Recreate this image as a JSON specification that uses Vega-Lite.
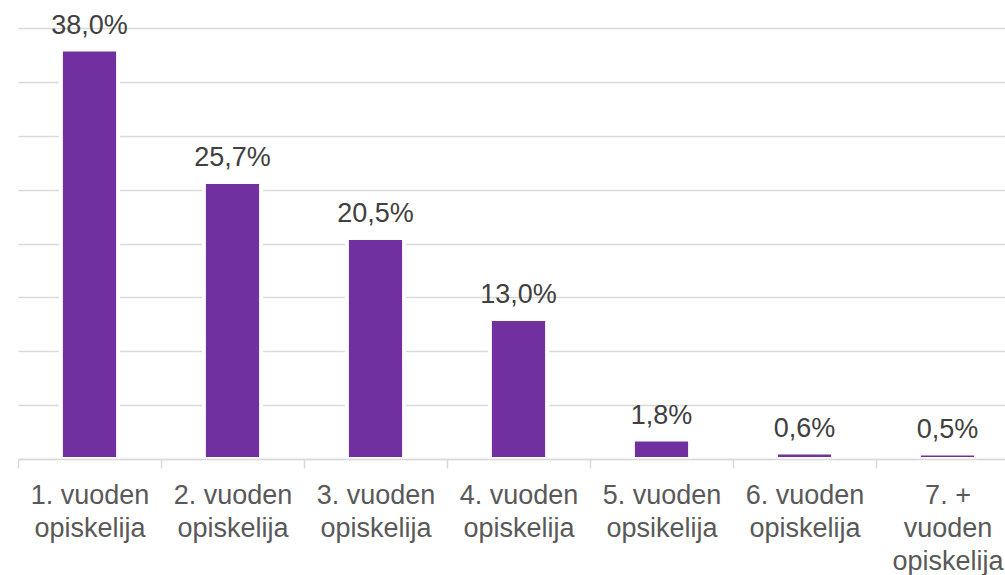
{
  "$schema": "https://vega.github.io/schema/vega-lite/v6.json",
  "autosize": {"type": "none"},
  "padding": {"left": 18, "top": 28, "right": 0, "bottom": 116},
  "width": 1001,
  "height": 431,
  "background": "white",
  "config": {
    "locale": {"number": {"decimal": ",", "thousands": " ", "grouping": [3], "currency": ["", " €"]}},
    "view": {"stroke": null},
    "font": "Liberation Sans"
  },
  "data": {
    "values": [
      {"luokka": "1. vuoden|opiskelija", "osuus": 0.380},
      {"luokka": "2. vuoden|opiskelija", "osuus": 0.257},
      {"luokka": "3. vuoden|opiskelija", "osuus": 0.205},
      {"luokka": "4. vuoden|opiskelija", "osuus": 0.130},
      {"luokka": "5. vuoden|opsikelija", "osuus": 0.018},
      {"luokka": "6. vuoden|opiskelija", "osuus": 0.006},
      {"luokka": "7. +|vuoden|opiskelija", "osuus": 0.005}
    ]
  },
  "encoding": {
    "x": {
      "field": "luokka", "type": "nominal", "sort": null,
      "scale": {"paddingInner": 0, "paddingOuter": 0},
      "axis": {
        "title": null, "labelAngle": 0, "tickBand": "extent",
        "labelExpr": "split(datum.label, '|')",
        "labelFontSize": 27, "labelColor": "#595959", "labelLineHeight": 33,
        "labelPadding": 14, "labelFont": "Liberation Sans",
        "domainColor": "#d9d9d9", "domainWidth": 1.5,
        "tickColor": "#d9d9d9", "tickWidth": 1.5, "tickSize": 9,
        "zindex": 1, "labelLimit": 300
      }
    },
    "y": {
      "field": "osuus", "type": "quantitative",
      "scale": {"domain": [0, 0.4], "nice": false},
      "axis": {
        "title": null, "labels": false, "ticks": false, "domain": false,
        "values": [0, 0.05, 0.1, 0.15, 0.2, 0.25, 0.3, 0.35, 0.4],
        "gridColor": "#d9d9d9", "gridWidth": 1.5
      }
    }
  },
  "layer": [
    {"mark": {"type": "bar", "color": "#7030A0", "stroke": "white", "strokeWidth": 4, "width": {"band": 0.4}}},
    {
      "mark": {"type": "text", "dy": -16, "baseline": "alphabetic", "fontSize": 27, "color": "#404040", "font": "Liberation Sans"},
      "encoding": {"text": {"field": "osuus", "type": "quantitative", "format": ".1%"}}
    }
  ]
}
